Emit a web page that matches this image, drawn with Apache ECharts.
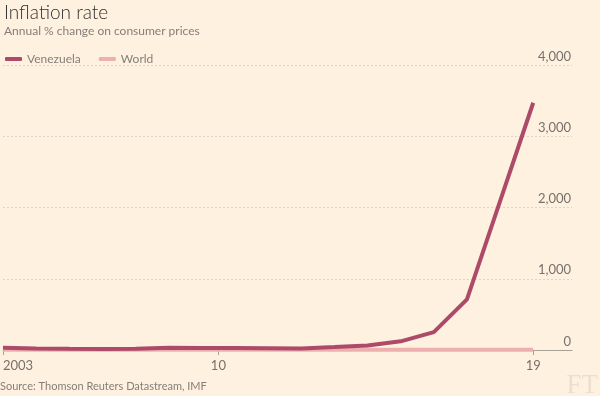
<!DOCTYPE html>
<html>
<head>
<meta charset="utf-8">
<script src="https://cdn.jsdelivr.net/npm/echarts@6/dist/echarts.min.js"></script>
<style>
  html, body { margin: 0; padding: 0; background: #fff1e0; }
  #chart { width: 600px; height: 396px; }
</style>
</head>
<body>
<div id="chart"></div>
<script>
// data
const years = [2003, 2004, 2005, 2006, 2007, 2008, 2009, 2010, 2011, 2012, 2013, 2014, 2015, 2016, 2017, 2018, 2019];
const venezuela = [31, 22, 16, 14, 19, 31, 27, 28, 26, 21, 41, 62, 122, 250, 710, 2090, 3470];
const world = [3.7, 3.6, 3.8, 3.7, 4.0, 6.3, 2.7, 3.6, 4.8, 4.0, 3.6, 3.2, 2.8, 2.8, 3.5, 3.4, 3.3];
const xTickValues = [2003, 2009.5, 2019];
const xTickLabels = ['2003', '10', '19'];
const yTicks = [0, 1000, 2000, 3000, 4000];

const toPairs = (vals) => years.map((y, i) => [y, vals[i]]);
const labelFor = (v) => {
  const i = xTickValues.indexOf(v);
  return i >= 0 ? xTickLabels[i] : '';
};

const myChart = echarts.init(document.getElementById('chart'));
const option = {
  backgroundColor: '#fff1e0',
  textStyle: { fontFamily: 'Lato, sans-serif' },
  title: {
    text: 'Inflation rate',
    subtext: 'Annual % change on consumer prices',
    left: -1,
    top: -2,
    itemGap: 3,
    textStyle: { fontSize: 19, fontWeight: 300, color: '#33302e', fontFamily: 'Lato' },
    subtextStyle: { fontSize: 12, color: '#857e78', fontFamily: 'Lato' },
  },
  legend: {
    data: ['Venezuela', 'World'],
    left: 0,
    top: 48,
    icon: 'roundRect',
    itemWidth: 17,
    itemHeight: 4,
    itemGap: 18,
    textStyle: { fontSize: 12, color: '#857e78', fontFamily: 'Lato' },
  },
  grid: { left: 1, right: 28, top: 65, bottom: 46, containLabel: false },
  xAxis: {
    type: 'value',
    min: 2003,
    max: 2020.17,
    axisLine: { show: true, lineStyle: { color: '#a7a097', width: 1 } },
    axisTick: {
      show: true,
      length: 5,
      customValues: xTickValues,
      lineStyle: { color: '#a7a097' },
    },
    axisLabel: {
      customValues: xTickValues,
      formatter: labelFor,
      alignMinLabel: 'left',
      fontSize: 13,
      color: '#77716b',
      margin: 9,
    },
    splitLine: { show: false },
  },
  yAxis: {
    type: 'value',
    position: 'right',
    min: 0,
    max: 4000,
    interval: 1000,
    axisLine: { show: false },
    axisTick: { show: false },
    axisLabel: {
      inside: true,
      verticalAlign: 'bottom',
      margin: 1,
      padding: [0, 0, 2, 0],
      fontSize: 13,
      color: '#77716b',
      formatter: (v) => (yTicks.includes(v) ? v.toLocaleString('en-US') : ''),
    },
    splitLine: { lineStyle: { color: '#ddd3c6', type: [2, 2], width: 1 } },
  },
  series: [
    {
      name: 'Venezuela',
      type: 'line',
      data: toPairs(venezuela),
      showSymbol: false,
      color: '#ad4a69',
      lineStyle: { width: 4 },
      z: 3,
      silent: true,
    },
    {
      name: 'World',
      type: 'line',
      data: toPairs(world),
      showSymbol: false,
      color: '#eeafaf',
      lineStyle: { width: 4 },
      z: 2,
      silent: true,
    },
  ],
  graphic: [
    {
      type: 'text',
      left: 0,
      top: 381,
      style: { text: 'Source: Thomson Reuters Datastream, IMF', fontSize: 11, fill: '#857e78', fontFamily: 'Lato' },
    },
    {
      type: 'text',
      right: 2,
      top: 372,
      style: { text: 'FT', fontSize: 27, fill: '#ebdfd1', fontFamily: 'Liberation Serif' },
    },
  ],
};
myChart.setOption(option);
</script>
</body>
</html>
